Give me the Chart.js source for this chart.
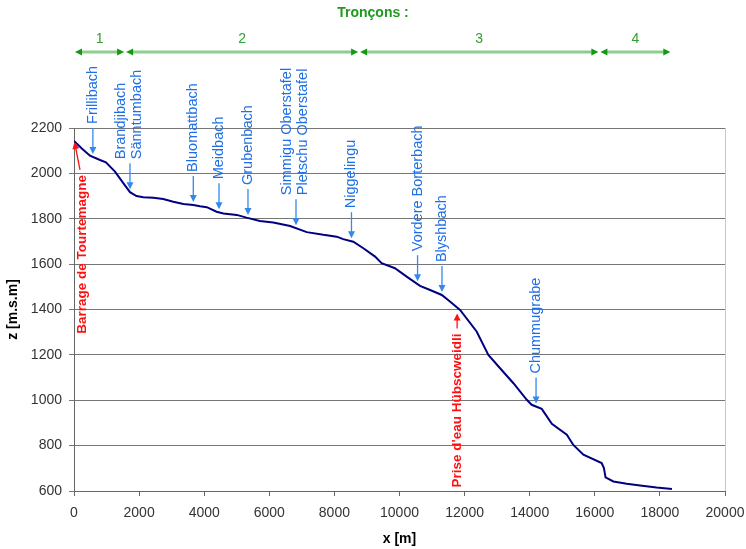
<!DOCTYPE html>
<html>
<head>
<meta charset="utf-8">
<title>Profil en long</title>
<script src="https://cdn.jsdelivr.net/npm/chart.js@4.4.1/dist/chart.umd.min.js"></script>
<style>
  html, body { margin: 0; padding: 0; background: #fff; }
  #wrap { width: 746px; height: 549px; }
</style>
</head>
<body>
<div id="wrap"><canvas id="profil" width="746" height="549"></canvas></div>
<script>
// ---- profil en long : distance depuis le barrage [m] / altitude [m.s.m]
const distM = [0, 240, 490, 800, 980, 1260, 1520, 1720, 1920, 2130, 2440, 2740, 3050, 3360, 3670,
  3870, 4080, 4380, 4590, 5000, 5300, 5710, 6120, 6640, 7150, 7660, 8070, 8270, 8580, 8890,
  9250, 9450, 9860, 10220, 10630, 10940, 11300, 11550, 11860, 12370, 12730, 13090, 13500,
  13910, 14060, 14370, 14680, 15140, 15340, 15650, 16210, 16280, 16330, 16570, 16980,
  17390, 17900, 18370];
const altM = [2143, 2110, 2078, 2059, 2049, 2008, 1956, 1917, 1900, 1895, 1893, 1887, 1875, 1865, 1861,
  1855, 1851, 1831, 1823, 1817, 1805, 1790, 1783, 1768, 1741, 1729, 1721, 1710, 1699, 1670,
  1633, 1604, 1582, 1545, 1504, 1486, 1464, 1435, 1398, 1303, 1200, 1141, 1075,
  1002, 980, 962, 896, 848, 803, 760, 723, 701, 660, 642, 632,
  624, 615, 609];

const xTicks = [0, 2000, 4000, 6000, 8000, 10000, 12000, 14000, 16000, 18000, 20000];
const zTicks = [600, 800, 1000, 1200, 1400, 1600, 1800, 2000, 2200];

// affluents (noms) et leur position le long du cours
const affluents = [["Frillibach"], ["Brandjibach", "Sänntumbach"], ["Bluomattbach"], ["Meidbach"],
  ["Grubenbach"], ["Simmigu Oberstafel", "Pletschu Oberstafel"], ["Niggelingu"],
  ["Vordere Borterbach"], ["Blyshbach"], ["Chummugrabe"]];
const affluentsX = [580, 1720, 3665, 4455, 5345, 6820, 8525, 10555, 11305, 14195];

// ouvrages
const ouvrages = ["Barrage de Tourtemagne", "Prise d'eau Hübscweidli"];
const ouvragesX = [0, 11770];

// tronçons
const troncons = ["1", "2", "3", "4"];
const tronconsLimites = [0, 1570, 8760, 16140, 18350];

const FONT = "'Liberation Sans', Arial, sans-serif";
const BLEU = "#1e6fe8";
const ROUGE = "#ff1010";

function altAt(x) {
  for (let i = 1; i < distM.length; i++) {
    if (x <= distM[i]) {
      const t = (x - distM[i - 1]) / (distM[i] - distM[i - 1]);
      return altM[i - 1] + t * (altM[i] - altM[i - 1]);
    }
  }
  return altM[altM.length - 1];
}

function fleche(ctx, x1, y1, x2, y2, color, w, len, half) {
  const a = Math.atan2(y2 - y1, x2 - x1);
  const c = Math.cos(a), s = Math.sin(a);
  ctx.strokeStyle = color;
  ctx.fillStyle = color;
  ctx.lineWidth = w;
  ctx.beginPath();
  ctx.moveTo(x1, y1);
  ctx.lineTo(x2 - (len - 1) * c, y2 - (len - 1) * s);
  ctx.stroke();
  ctx.beginPath();
  ctx.moveTo(x2, y2);
  ctx.lineTo(x2 - len * c + half * s, y2 - len * s - half * c);
  ctx.lineTo(x2 - len * c - half * s, y2 - len * s + half * c);
  ctx.closePath();
  ctx.fill();
}

function pointe(ctx, x, y, dir, color) {
  ctx.fillStyle = color;
  ctx.beginPath();
  ctx.moveTo(x, y);
  ctx.lineTo(x - dir * 7, y - 3.5);
  ctx.lineTo(x - dir * 7, y + 3.5);
  ctx.closePath();
  ctx.fill();
}

function texteVertical(ctx, txt, x, y, align) {
  ctx.save();
  ctx.translate(x, y);
  ctx.rotate(-Math.PI / 2);
  ctx.textAlign = align;
  ctx.textBaseline = "middle";
  ctx.fillText(txt, 0, 0);
  ctx.restore();
}

const annotations = {
  id: "annotations",
  afterDraw(chart) {
    const { ctx, chartArea } = chart;
    const xs = chart.scales.x, ys = chart.scales.y;
    ctx.save();

    // bord droit de la zone de tracé
    ctx.strokeStyle = "#c8c8c8";
    ctx.lineWidth = 1;
    ctx.beginPath();
    ctx.moveTo(Math.round(chartArea.right) + 0.5, chartArea.top);
    ctx.lineTo(Math.round(chartArea.right) + 0.5, chartArea.bottom);
    ctx.stroke();

    // affluents
    ctx.font = "14.5px " + FONT;
    affluents.forEach((noms, i) => {
      const px = xs.getPixelForValue(affluentsX[i]);
      const tip = ys.getPixelForValue(altAt(affluentsX[i])) - 3;
      const tail = tip - 26;
      fleche(ctx, px, tail, px, tip, "#3388f0", 1.3, 7, 3.5);
      ctx.fillStyle = BLEU;
      const offs = noms.length === 1 ? [0] : [-8.5, 7.5];
      noms.forEach((n, k) => texteVertical(ctx, n, px + offs[k], tail - 4, "left"));
    });

    // ouvrages
    ctx.font = "bold 13.5px " + FONT;
    {
      const px = xs.getPixelForValue(ouvragesX[0]);
      const py = ys.getPixelForValue(altAt(ouvragesX[0]));
      fleche(ctx, px + 6, py + 29, px + 0.5, py + 1, ROUGE, 1.3, 7, 3.5);
      ctx.fillStyle = ROUGE;
      texteVertical(ctx, ouvrages[0], px + 8, py + 34, "right");
    }
    {
      const px = xs.getPixelForValue(ouvragesX[1]);
      const tip = ys.getPixelForValue(altAt(ouvragesX[1])) + 6;
      fleche(ctx, px, tip + 15, px, tip, ROUGE, 1.3, 7, 3.5);
      ctx.fillStyle = ROUGE;
      texteVertical(ctx, ouvrages[1], px, tip + 20, "right");
    }

    // tronçons
    const yT = 52;
    ctx.font = "14px " + FONT;
    ctx.textAlign = "center";
    ctx.textBaseline = "middle";
    troncons.forEach((t, i) => {
      const x1 = xs.getPixelForValue(tronconsLimites[i]) + 1;
      const x2 = xs.getPixelForValue(tronconsLimites[i + 1]) - 1;
      ctx.strokeStyle = "#8ccf8c";
      ctx.lineWidth = 3;
      ctx.beginPath();
      ctx.moveTo(x1 + 4, yT);
      ctx.lineTo(x2 - 4, yT);
      ctx.stroke();
      pointe(ctx, x1, yT, -1, "#129a12");
      pointe(ctx, x2, yT, 1, "#129a12");
      ctx.fillStyle = "#30a030";
      ctx.fillText(t, (x1 + x2) / 2, 39);
    });

    ctx.restore();
  }
};

new Chart(document.getElementById("profil"), {
  type: "line",
  data: {
    datasets: [{
      data: distM.map((d, i) => ({ x: d, y: altM[i] })),
      borderColor: "#000080",
      borderWidth: 2,
      pointRadius: 0,
      tension: 0,
      fill: false
    }]
  },
  options: {
    responsive: false,
    animation: false,
    devicePixelRatio: 1,
    layout: { padding: 0 },
    plugins: {
      legend: { display: false },
      tooltip: { enabled: false },
      title: {
        display: true,
        text: "Tronçons :",
        color: "#1f9a1f",
        font: { family: FONT, size: 14, weight: "bold" },
        padding: { top: 5, bottom: 106.2 }
      }
    },
    scales: {
      x: {
        type: "linear",
        min: 0,
        max: 20000,
        afterBuildTicks: s => { s.ticks = xTicks.map(v => ({ value: v })); },
        afterFit: s => { s.height = 58; s.paddingLeft = 0; s.paddingRight = 21; },
        ticks: {
          color: "#333",
          font: { family: FONT, size: 14 },
          padding: 9,
          maxRotation: 0,
          autoSkip: false,
          callback: v => String(v)
        },
        grid: { drawOnChartArea: false, drawTicks: true, tickLength: 5, color: "#666" },
        border: { display: true, color: "#666" },
        title: {
          display: true,
          text: "x [m]",
          color: "#000",
          font: { family: FONT, size: 14, weight: "bold" },
          padding: { top: 0, bottom: 1 }
        }
      },
      y: {
        min: 600,
        max: 2200,
        afterBuildTicks: s => { s.ticks = zTicks.map(v => ({ value: v })); },
        afterFit: s => { s.width = 74; },
        ticks: {
          color: "#333",
          font: { family: FONT, size: 14 },
          padding: 7,
          callback: v => String(v)
        },
        grid: { color: "#767676", lineWidth: 1, tickLength: 5 },
        border: { display: true, color: "#666" },
        title: {
          display: true,
          text: "z [m.s.m]",
          color: "#000",
          font: { family: FONT, size: 14, weight: "bold" },
          padding: { top: 5, bottom: 0 }
        }
      }
    }
  },
  plugins: [annotations]
});
</script>
</body>
</html>
